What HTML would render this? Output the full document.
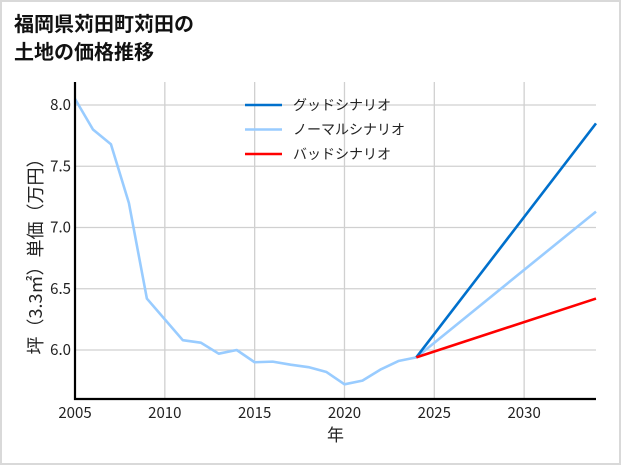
<!DOCTYPE html>
<html><head><meta charset="utf-8"><style>
body{margin:0;background:#fff;}
#wrap{position:relative;width:617px;height:461px;border:2px solid #d9d9d9;background:#fff;overflow:hidden;}
#title{position:absolute;left:12px;top:7px;font:bold 20px/28px "Noto Sans CJK JP",sans-serif;color:#111;}
svg{position:absolute;left:-2px;top:-2px;}
text{font-family:"Noto Sans CJK JP",sans-serif;fill:#222;}
</style></head><body>
<div id="wrap">
<div id="title">福岡県苅田町苅田の<br>土地の価格推移</div>
<svg id="chart" width="621" height="465"></svg>
</div>
<script>
const years=[2005,2006,2007,2008,2009,2010,2011,2012,2013,2014,2015,2016,2017,2018,2019,2020,2021,2022,2023,2024];
const prices=[8.05,7.80,7.68,7.20,6.42,6.25,6.08,6.06,5.97,6.00,5.90,5.905,5.88,5.86,5.82,5.72,5.75,5.84,5.91,5.94];
const scenYears=[2024,2034];
const goodVals=[5.94,7.85];
const normalVals=[5.94,7.13];
const badVals=[5.94,6.42];
const xTicks=[2005,2010,2015,2020,2025,2030];
const yTicks=[6.0,6.5,7.0,7.5,8.0];
const legendLabels=["グッドシナリオ","ノーマルシナリオ","バッドシナリオ"];
const legendColors=["#0070cc","#99ccff","#ff0000"];

const NS="http://www.w3.org/2000/svg";
const svg=document.getElementById('chart');
const L=75,R=596,T=82,B=399;
const x=v=>L+(v-2005)/(2034-2005)*(R-L);
const y=v=>350-(v-6.0)*122.5;
function mk(t,a){const e=document.createElementNS(NS,t);for(const k in a)e.setAttribute(k,a[k]);svg.appendChild(e);return e;}
xTicks.forEach(t=>{
  const g=mk('line',{x1:x(t),x2:x(t),y1:T,y2:B,stroke:'#d0d0d0','stroke-width':1.3});
  
  
  const l=mk('text',{x:x(t),y:418,'text-anchor':'middle','font-size':15});
  l.textContent=t;
  
  
});
yTicks.forEach(t=>{
  const g=mk('line',{x1:L,x2:R,y1:y(t),y2:y(t),stroke:'#d0d0d0','stroke-width':1.3});
  
  
  const l=mk('text',{x:71,y:y(t)+5,'text-anchor':'end','font-size':15});
  l.textContent=t.toFixed(1);
  
  
});
function line(xs,vs,c,name){
  const p=mk('polyline',{points:xs.map((v,i)=>x(v)+','+y(vs[i])).join(' '),fill:'none',stroke:c,'stroke-width':2.6,'stroke-linejoin':'round'});
  
  
}
line(years,prices,'#99ccff','historical-price-line');
line(scenYears,normalVals,'#99ccff','normal-scenario-line');
line(scenYears,goodVals,'#0070cc','good-scenario-line');
line(scenYears,badVals,'#ff0000','bad-scenario-line');
const ax=mk('polyline',{points:`${L},${T} ${L},${B} ${R},${B}`,fill:'none',stroke:'#000','stroke-width':2.2});


const xt=mk('text',{x:(L+R)/2,y:441,'text-anchor':'middle','font-size':17});
xt.textContent='年';


const yt=mk('text',{x:0,y:0,'text-anchor':'middle','font-size':18,transform:'translate(42,252) rotate(-90)'});
yt.textContent='坪（3.3㎡）単価（万円）';


legendLabels.forEach((s,i)=>{
  const yy=105+i*24.5;
  const ln=mk('line',{x1:245,x2:282,y1:yy,y2:yy,stroke:legendColors[i],'stroke-width':2.6});
  
  
  const tx=mk('text',{x:293,y:yy+5,'font-size':14});
  tx.textContent=s;
  
  
});
</script>
</body></html>
